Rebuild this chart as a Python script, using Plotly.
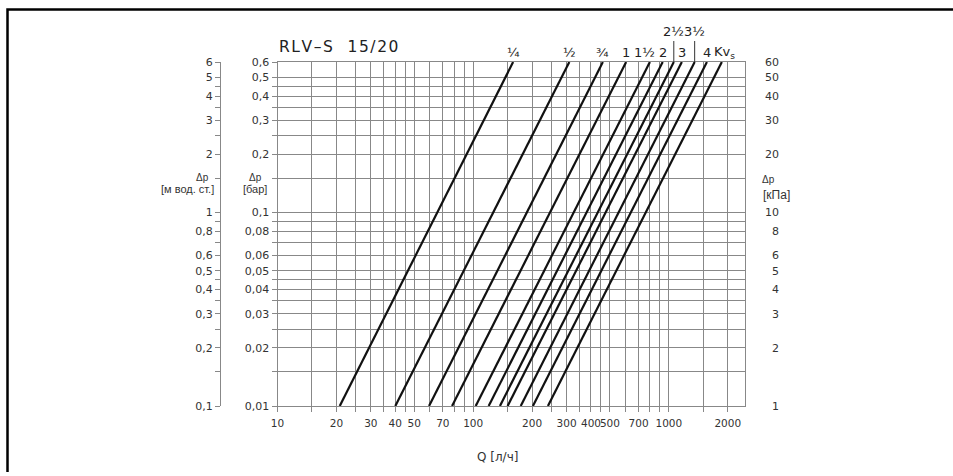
import math
import plotly.graph_objects as go

W, H = 953, 472

# ---------------- data ----------------
# flow Q [л/ч] of each presetting line at Δp = 0.01 bar and at Δp = 0.6 bar
q_at_low = [20.8, 40, 59.5, 78, 103, 120, 137, 150, 175, 202, 241]
q_at_high = [160, 310, 460, 605, 800, 930, 1060, 1165, 1355, 1565, 1865]
dp_low_high = [0.01, 0.6]
line_labels = ["¼", "½", "¾", "1", "1½", "2", "2½", "3", "3½", "4", "Kv<sub>s</sub>"]

x_major = [10, 20, 30, 40, 50, 70, 100, 200, 300, 400, 500, 700, 1000, 2000]
x_minor = [15, 25, 35, 45, 60, 80, 90, 150, 250, 350, 450, 600, 800, 900, 1500]

bar_major = [0.01, 0.02, 0.03, 0.04, 0.05, 0.06, 0.08, 0.1, 0.2, 0.3, 0.4, 0.5, 0.6]
bar_labels = ["0,01", "0,02", "0,03", "0,04", "0,05", "0,06", "0,08", "0,1",
              "0,2", "0,3", "0,4", "0,5", "0,6"]
bar_minor = [0.015, 0.025, 0.035, 0.045, 0.07, 0.09, 0.15, 0.25, 0.35, 0.45]

mwc_major = [0.1, 0.2, 0.3, 0.4, 0.5, 0.6, 0.8, 1, 2, 3, 4, 5, 6]
mwc_labels = ["0,1", "0,2", "0,3", "0,4", "0,5", "0,6", "0,8", "1", "2", "3", "4", "5", "6"]
mwc_minor = [0.15, 0.25, 0.35, 0.45, 0.7, 0.9, 1.5, 2.5, 3.5, 4.5]

kpa_major = [1, 2, 3, 4, 5, 6, 8, 10, 20, 30, 40, 50, 60]
kpa_labels = [str(v) for v in kpa_major]

x_range = [10, 2450]
title_text = "R\u200aL\u200aV\u200a–\u200aS   1\u200a5\u200a/\u200a2\u200a0"

# ---------------- layout geometry ----------------
PX_L, PX_R, PX_T, PX_B = 277.5, 745.0, 62.0, 406.0
xd = [PX_L / W, PX_R / W]
yd = [1 - PX_B / H, 1 - PX_T / H]


def px(xp):
    return xp / W


def py(yp):
    return 1 - yp / H


GRID = "#888888"
TXT = "#333333"
FONT = "DejaVu Sans"

fig = go.Figure()

for ql, qh in zip(q_at_low, q_at_high):
    fig.add_trace(go.Scatter(
        x=[ql, qh], y=dp_low_high, mode="lines",
        line=dict(color="#111111", width=2.2),
        showlegend=False, hoverinfo="skip"))

# invisible anchors for the auxiliary axes
fig.add_trace(go.Scatter(x=[100], y=[10], yaxis="y2", mode="markers",
                         marker=dict(opacity=0), showlegend=False, hoverinfo="skip"))
fig.add_trace(go.Scatter(x=[100], y=[1], yaxis="y3", mode="markers",
                         marker=dict(opacity=0), showlegend=False, hoverinfo="skip"))

axis_common = dict(type="log", showline=True, linecolor=GRID, linewidth=1,
                   mirror=True, zeroline=False,
                   gridcolor=GRID, gridwidth=1, ticks="outside",
                   ticklen=5, tickcolor=GRID, tickwidth=1, tickangle=0)

fig.update_layout(
    width=W, height=H, autosize=False, showlegend=False,
    margin=dict(l=0, r=0, t=0, b=0, pad=0),
    plot_bgcolor="white", paper_bgcolor="white",
    xaxis=dict(domain=xd, range=[math.log10(x_range[0]), math.log10(x_range[1])],
               tickmode="array", tickvals=x_major,
               ticktext=[str(v) for v in x_major],
               tickfont=dict(family=FONT, size=10.5, color=TXT),
               ticklabelstandoff=2,
               minor=dict(tickmode="array", tickvals=x_minor, showgrid=True,
                          gridcolor=GRID, gridwidth=1, ticks="outside", ticklen=5,
                          tickcolor=GRID),
               automargin=False, **axis_common),
    yaxis=dict(domain=yd, range=[math.log10(dp_low_high[0]), math.log10(dp_low_high[1])],
               tickmode="array", tickvals=bar_major, ticktext=bar_labels,
               tickfont=dict(family=FONT, size=11, color=TXT),
               minor=dict(tickmode="array", tickvals=bar_minor, showgrid=True,
                          gridcolor=GRID, gridwidth=1, ticks="outside", ticklen=5,
                          tickcolor=GRID),
               automargin=False, **axis_common),
    yaxis2=dict(domain=yd, overlaying="y", anchor="free", position=px(779), side="left",
                type="log", range=[0, math.log10(60)],
                tickmode="array", tickvals=kpa_major, ticktext=kpa_labels,
                ticks="", showline=False, showgrid=False, zeroline=False,
                tickfont=dict(family=FONT, size=11, color=TXT), automargin=False),
    yaxis3=dict(domain=yd, overlaying="y", anchor="free", position=px(220), side="left",
                type="log", range=[-1, math.log10(6)],
                tickmode="array", tickvals=mwc_major, ticktext=mwc_labels,
                minor=dict(tickmode="array", tickvals=mwc_minor, ticks="outside",
                           ticklen=5, tickcolor=GRID, showgrid=False),
                ticks="outside", ticklen=5, tickcolor=GRID,
                showline=True, linecolor=GRID, linewidth=1,
                showgrid=False, zeroline=False,
                tickfont=dict(family=FONT, size=11, color=TXT), automargin=False),
)

ann = []
# title
ann.append(dict(text=title_text, xref="paper", yref="paper", x=px(277), y=py(47),
                xanchor="left", yanchor="middle", showarrow=False,
                font=dict(family=FONT, size=15.5, color="#222222")))
# x title
ann.append(dict(text="Q [л/ч]", xref="paper", yref="paper", x=px(497), y=py(457),
                xanchor="center", yanchor="middle", showarrow=False,
                font=dict(family=FONT, size=12, color=TXT)))
# Δp axis captions
for cx, cy, txt, sz in [
    (202, 177, "Δp", 10), (187, 189, "[м вод. ст.]", 11),
    (255, 177, "Δp", 10), (255, 189, "[бар]", 11),
    (768, 179, "Δp", 10), (776, 195, "[кПа]", 12),
]:
    ann.append(dict(text=txt, xref="paper", yref="paper", x=px(cx), y=py(cy),
                    xanchor="center", yanchor="middle", showarrow=False,
                    font=dict(family="Liberation Sans", size=sz, color=TXT)))

# presetting labels above the lines
raised = {"2½", "3½"}
label_shift = {"1½": -5, "Kv<sub>s</sub>": 3}
for q, lab in zip(q_at_high, line_labels):
    if lab in raised:
        # label with a leader line down to the top end of its curve
        ann.append(dict(text=lab, xref="x", yref="y", x=math.log10(q),
                        y=math.log10(dp_low_high[1]),
                        showarrow=True, arrowhead=0, arrowwidth=1, arrowcolor="#333333",
                        ax=0, ay=-30, standoff=0, startstandoff=0,
                        font=dict(family=FONT, size=13, color="#222222")))
    else:
        ann.append(dict(text=lab, xref="x", yref="paper", x=math.log10(q), y=py(52),
                        xanchor="center", yanchor="middle", showarrow=False,
                        xshift=label_shift.get(lab, 0),
                        font=dict(family=FONT, size=13, color="#222222")))

fig.update_layout(annotations=ann)

# white cover on the far right strip, then the outer frame (top and left edges)
fig.add_shape(type="rect", xref="paper", yref="paper", layer="above",
              x0=px(900), x1=1, y0=0, y1=py(12),
              line=dict(width=0), fillcolor="white")
fx, fy = px(7.5), py(9.5)
fig.add_shape(type="path", xref="paper", yref="paper", layer="above",
              path=f"M {fx},0 L {fx},{fy} L 1.2,{fy}",
              line=dict(color="black", width=2.5))

fig.write_html("out.html", config={"displayModeBar": False},
               post_script=("document.body.style.margin='0';"
                            "document.body.style.overflow='hidden';"
                            "document.documentElement.style.overflow='hidden';"
                            "document.documentElement.style.scrollbarWidth='none';"))
